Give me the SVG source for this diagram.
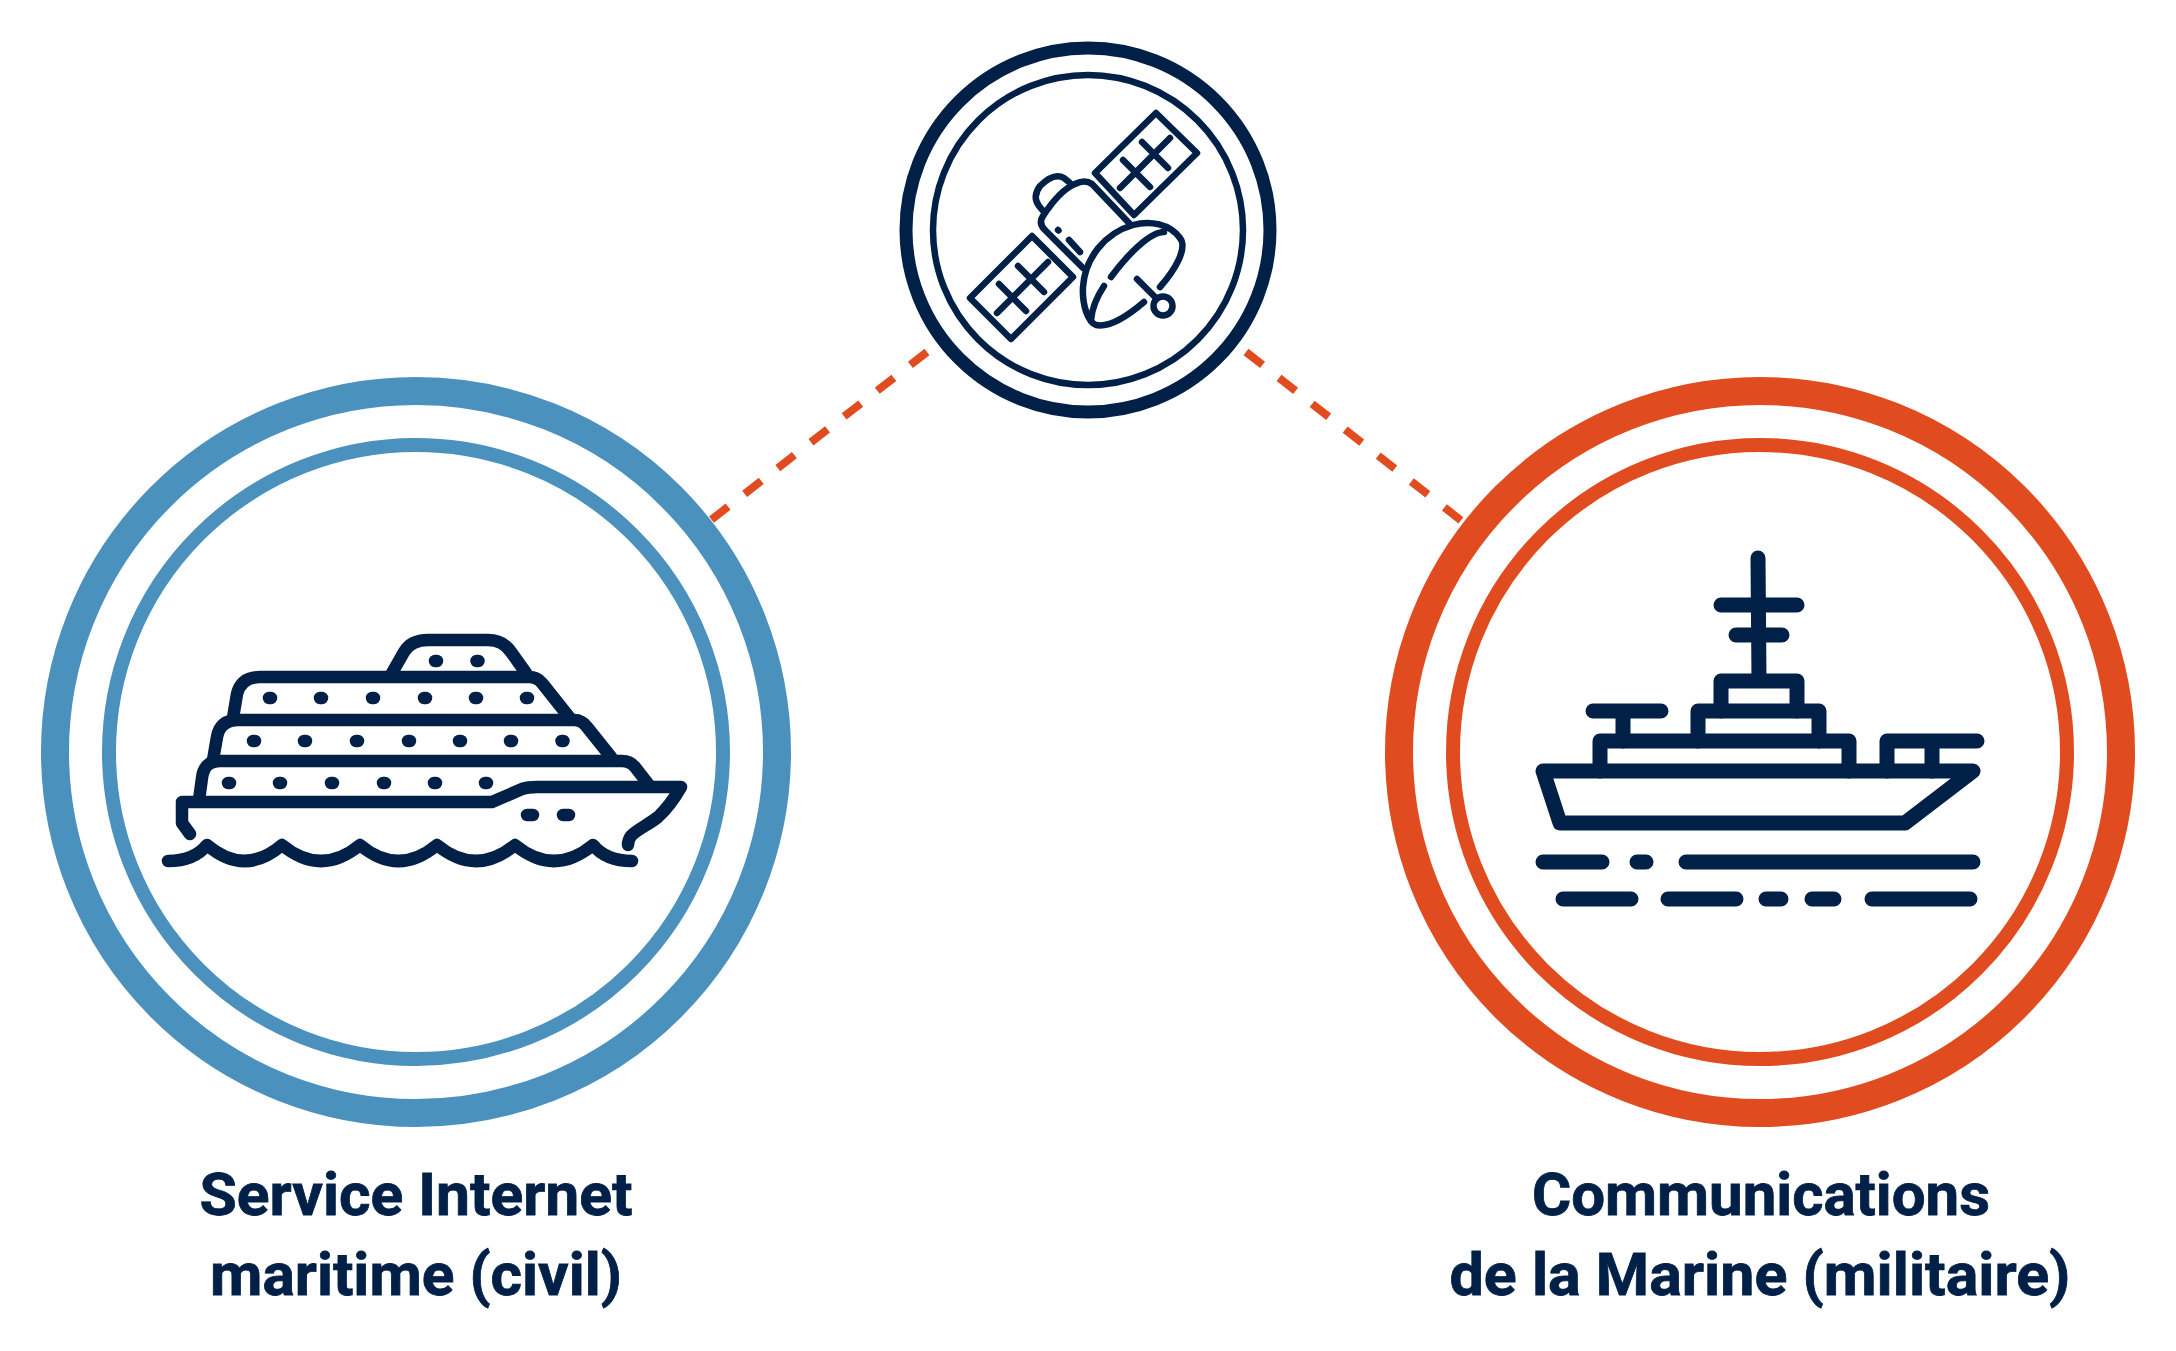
<svg xmlns="http://www.w3.org/2000/svg" width="2176" height="1351" viewBox="0 0 2176 1351">
<style>
.ln{fill:none;stroke:#012047;stroke-linecap:round;stroke-linejoin:round}
.s12{stroke-width:12.500}
.s15{stroke-width:15}
.s6{stroke-width:6.500}
.ring{fill:none}
.dash{fill:none;stroke:#e04c20;stroke-width:8;stroke-dasharray:21 21}
.lbl{font-family:Roboto,"Liberation Sans",sans-serif;font-weight:700;font-size:60px;fill:#012047;text-anchor:middle;stroke:#012047;stroke-width:.8}
</style>
<rect width="2176" height="1351" fill="#ffffff"/>
<g id="connectors">
<path class="dash" d="M927 352L711 520"/>
<path class="dash" d="M1246 352L1463 522"/>
</g>
<g id="node-satellite">
<circle class="ring" cx="1088" cy="230" r="182" stroke="#012047" stroke-width="13"/>
<circle class="ring" cx="1088" cy="230" r="155" stroke="#012047" stroke-width="6.500"/>
<g class="ln s6">
<path d="M1156 113L1197 153L1134 215L1095 173Z"/>
<path d="M1170 138L1120 188M1142 142L1168 168M1123 160L1150 187"/>
<path d="M1032 236L1073 277L1011 339L970 298Z"/>
<path d="M1048 262L997 313M1018 266L1044 292M999 284L1026 311"/>
<path d="M1083 268L1045 230Q1038 223 1043 216Q1060 190 1075 184Q1085 179 1092 184L1130 224"/>
<path d="M1044 212L1039 206Q1032 197 1040 186Q1054 172 1064 178L1070 183"/>
<path d="M1058 230L1058.500 230.500M1069 240L1080 252"/>
<path d="M1160 287C1175 270 1188 248 1180 238C1170 224 1150 220 1133 225C1105 233 1085 258 1083 287C1082 305 1088 322 1096 325C1110 328 1130 314 1144 302"/>
<path d="M1164 232C1150 232 1128 254 1111 277M1104 286C1098 295 1092 308 1091 320"/>
<path d="M1137 279L1155 297"/>
<circle cx="1163" cy="306" r="9.500"/>
</g>
</g>
<g id="node-civil">
<circle class="ring" cx="416" cy="752" r="361" stroke="#4a91be" stroke-width="28"/>
<circle class="ring" cx="416" cy="752" r="307" stroke="#4a91be" stroke-width="14"/>
<g class="ln s12">
<path d="M190 834L182 823V802H492L522 789Q528 787 537 787H681Q670 806 658 817C648 825 636 830 631 836Q628 840 628 845"/>
<path d="M199 800L202 778Q204 761 220 761H622Q630 761 635 767L649 785"/>
<path d="M213 760L217 737Q220 720 238 720H574Q582 720 587 727L611 757"/>
<path d="M233 718L237 694Q241 677 260 677H529Q537 677 542 683L569 717"/>
<path d="M392 673L404 652Q411 640 428 640H488Q503 640 511 652L526 673"/>
<path d="M435 661H437M476.500 661H478.500M269 698H271M320 698H322M372 698H374M424 698H426M475 698H477M526 698H528M253 741H255M304 741H306M356 741H358M408 741H410M459 741H461M510 741H512M561.500 741H563.500M228 783H230M279 783H281M331 783H333M383 783H385M434 783H436M485 783H487M527 815H533M563 815H569"/>
<path d="M168 861Q194 861 207 845Q244.500 877 282 845Q321 877 360 845Q398.500 877 437 845Q476 877 515 845Q554 877 593 845Q606 861 632 861"/>
</g>
<text class="lbl" x="416" y="1215" textLength="433" lengthAdjust="spacingAndGlyphs">Service Internet</text>
<text class="lbl" x="416" y="1295" textLength="412" lengthAdjust="spacingAndGlyphs">maritime (civil)</text>
</g>
<g id="node-military">
<circle class="ring" cx="1760" cy="752" r="361" stroke="#e04c20" stroke-width="28"/>
<circle class="ring" cx="1760" cy="752" r="307" stroke="#e04c20" stroke-width="14"/>
<g class="ln s15">
<path d="M1758 558L1759 680M1721 605H1797M1736 635H1782"/>
<path d="M1721 711V681H1797V711"/>
<path d="M1698 741V711H1819V741"/>
<path d="M1600 771V741H1849V771"/>
<path d="M1593 711H1661M1623 711V741"/>
<path d="M1887 771V741H1977M1932 741V771"/>
<path d="M1543 771L1560 823H1905L1973 771Z"/>
<path d="M1543 862H1602M1637 862H1646M1686 862H1973M1563 899H1631M1668 899H1736M1766 899H1781M1812 899H1834M1872 899H1970"/>
</g>
<text class="lbl" x="1761" y="1215" textLength="458" lengthAdjust="spacingAndGlyphs">Communications</text>
<text class="lbl" x="1760" y="1295" textLength="621" lengthAdjust="spacingAndGlyphs">de la Marine (militaire)</text>
</g>
</svg>
